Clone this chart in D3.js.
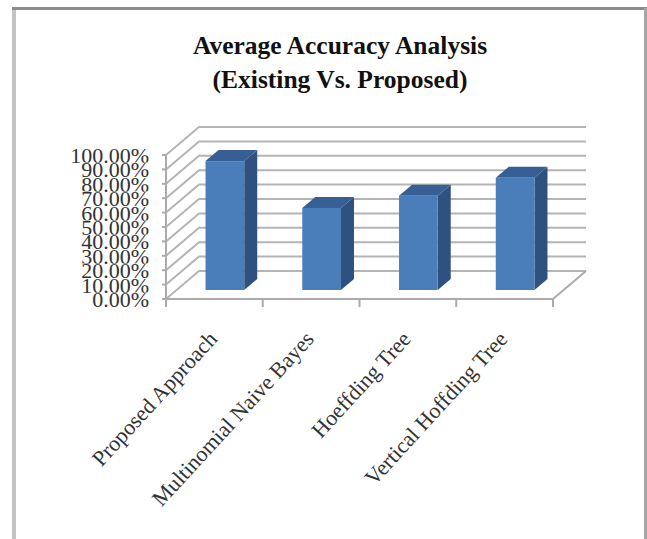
<!DOCTYPE html>
<html>
<head>
<meta charset="utf-8">
<script src="https://cdn.jsdelivr.net/npm/d3@7"></script>
<style>
  html, body { margin: 0; padding: 0; background: #fff; }
  svg { display: block; }
  text { font-family: "Liberation Serif", serif; }
</style>
</head>
<body>
<svg id="chart" width="647" height="539"></svg>
<script>
const categories = ["Proposed Approach", "Multinomial Naive Bayes", "Hoeffding Tree", "Vertical Hoffding Tree"];
const accuracy = [89.5, 57, 65.5, 78];
const yTicks = [0, 10, 20, 30, 40, 50, 60, 70, 80, 90, 100];
const titleLines = ["Average Accuracy Analysis", "(Existing Vs. Proposed)"];

const svg = d3.select("#chart");

// Chart frame: left, top and right edges, the bottom runs off the page
const frame = svg.append("g").attr("fill", "none");
frame.append("line").attr("x1", 14).attr("x2", 14).attr("y1", 8).attr("y2", 539)
  .attr("stroke", "#c4c4c4").attr("stroke-width", 4);
frame.append("line").attr("x1", 12).attr("x2", 647).attr("y1", 8.5).attr("y2", 8.5)
  .attr("stroke", "#8c8c8c").attr("stroke-width", 3);
frame.append("line").attr("x1", 645.5).attr("x2", 645.5).attr("y1", 8).attr("y2", 539)
  .attr("stroke", "#a6a6a6").attr("stroke-width", 3);

// Title
svg.append("g").selectAll("text").data(titleLines).join("text")
  .attr("x", 340).attr("y", (d, i) => 54 + i * 34)
  .attr("text-anchor", "middle").attr("font-size", 25.5).attr("font-weight", "bold")
  .attr("fill", "#111").text(d => d);

// Oblique projection: the wall sits behind the floor's front edge
const depth = { x: 33, y: -28 };
const barDepth = { x: 13, y: -11 };
const barInset = { x: 10.5, y: -9 };

const x = d3.scaleBand().domain(categories).range([166, 553]);
const y = d3.scaleLinear().domain([0, 100]).range([299, 155]);
const barWidth = x.bandwidth() / 2.5;

// Back wall gridlines with their side-wall returns
const grid = svg.append("g").attr("fill", "none").attr("stroke", "#b4b4b4").attr("stroke-width", 2);
grid.selectAll("path").data(yTicks).join("path")
  .attr("d", t => {
    const p = d3.path();
    p.moveTo(x.range()[0], y(t));
    p.lineTo(x.range()[0] + depth.x, y(t) + depth.y);
    p.lineTo(x.range()[1] + depth.x, y(t) + depth.y);
    return p.toString();
  });

// Floor edges and value axis
const axisStyle = g => g.attr("fill", "none").attr("stroke", "#ababab").attr("stroke-width", 2);
const axes = svg.append("g").call(axisStyle);
axes.append("line").attr("x1", x.range()[0]).attr("x2", x.range()[1]).attr("y1", y(0)).attr("y2", y(0));
axes.append("line").attr("x1", x.range()[0]).attr("x2", x.range()[0]).attr("y1", y(100)).attr("y2", y(0));
axes.append("line").attr("x1", x.range()[1]).attr("x2", x.range()[1] + depth.x)
  .attr("y1", y(0)).attr("y2", y(0) + depth.y);

// Tick marks along both axes
const tickPositions = categories.map(c => x(c)).concat(x.range()[1]);
axes.selectAll(".xtick").data(tickPositions).join("line").attr("class", "xtick")
  .attr("x1", d => d).attr("x2", d => d).attr("y1", y(0)).attr("y2", y(0) + 8);
axes.selectAll(".ytick").data(yTicks).join("line").attr("class", "ytick")
  .attr("x1", x.range()[0] - 4).attr("x2", x.range()[0]).attr("y1", d => y(d)).attr("y2", d => y(d));

// Value labels, tightly stacked so each one clips the one above it
svg.append("g").selectAll("text").data(yTicks.slice().reverse()).join("text")
  .attr("x", 149).attr("y", d => y(d) + 8).attr("text-anchor", "end")
  .attr("font-size", 22).attr("fill", "#333")
  .attr("stroke", "#fff").attr("stroke-width", 1.2).attr("paint-order", "stroke")
  .text(d => d3.format(".2f")(d) + "%");

// Bars: side, top and front faces, standing inset from the floor's front edge
const bars = svg.append("g").selectAll("g").data(categories).join("g");
const left = c => x(c) + (x.bandwidth() - barWidth) / 2 + barInset.x;
const base = y(0) + barInset.y;
const topY = i => y(accuracy[i]) + barInset.y;

bars.append("path").attr("fill", "#2f5180").attr("d", (c, i) => {
  const r = left(c) + barWidth;
  return `M${r},${topY(i)}L${r + barDepth.x},${topY(i) + barDepth.y}L${r + barDepth.x},${base + barDepth.y}L${r},${base}Z`;
});
bars.append("path").attr("fill", "#375f95").attr("d", (c, i) => {
  const l = left(c), r = l + barWidth;
  return `M${l},${topY(i)}L${l + barDepth.x},${topY(i) + barDepth.y}L${r + barDepth.x},${topY(i) + barDepth.y}L${r},${topY(i)}Z`;
});
bars.append("rect").attr("fill", "#4a7ebb")
  .attr("x", left).attr("y", (c, i) => topY(i))
  .attr("width", barWidth).attr("height", (c, i) => base - topY(i));

// Slanted category labels ending beneath each tick interval
svg.append("g").selectAll("text").data(categories).join("text")
  .attr("transform", c => `translate(${x(c) + x.bandwidth() / 2 + 4},340) rotate(-47.5)`)
  .attr("text-anchor", "end").attr("font-size", 22).attr("fill", "#333")
  .text(c => c);
</script>
</body>
</html>
